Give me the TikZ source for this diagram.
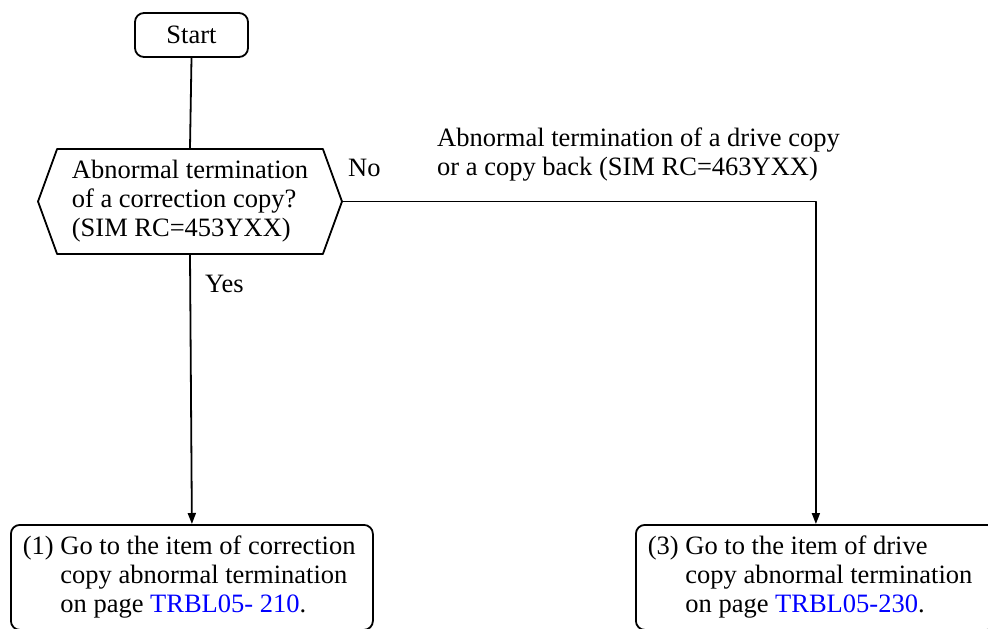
\documentclass[tikz,border=0pt]{standalone}
\usepackage{fontspec}
\setmainfont{Liberation Serif}
\usetikzlibrary{shapes.symbols,arrows.meta}

\begin{document}
\begin{tikzpicture}[x=1pt, y=-1pt, line cap=round, line join=round,
    every node/.style={font=\fontsize{26.5}{29}\selectfont, inner sep=0pt},
    box/.style={draw, line width=1.8pt, rounded corners=9pt},
    decision/.style={draw, line width=1.8pt, shape=signal, signal to=west and east,
      signal pointer angle=140, minimum width=304, minimum height=105},
    flow/.style={line width=1.8pt, -{Triangle[length=11pt, width=8pt]}}]
  % --- Khung ảnh ---
  \useasboundingbox (0,0) rectangle (988,629);

  % --- Các khối ---
  \node[box, minimum width=113, minimum height=44] (start) at (191.5,35) {Start};
  \node[decision, align=left] (q) at (190,201.5)
    {Abnormal termination\\of a correction copy?\\(SIM RC=453YXX)};
  \node[box, anchor=north west, inner xsep=12pt, minimum height=105] (go1) at (10,524)
    {\makebox[338pt][l]{\begin{tabular}{@{}l@{ }l@{}}(1) & Go to the item of correction\\
      & copy abnormal termination\\
      & on page \textcolor{blue}{TRBL05- 210}.\end{tabular}}};
  \node[box, anchor=north west, inner xsep=12pt, minimum height=105] (go3) at (635,524)
    {\makebox[336pt][l]{\begin{tabular}{@{}l@{ }l@{}}(3) & Go to the item of drive\\
      & copy abnormal termination\\
      & on page \textcolor{blue}{TRBL05-230}.\end{tabular}}};

  % --- Nhãn ---
  \node[anchor=base west] (no) at (348,176) {No};
  \node[anchor=base west] (yes) at (205,292) {Yes};
  \node[anchor=base west, align=left] (drive) at (437,175)
    {Abnormal termination of a drive copy\\or a copy back (SIM RC=463YXX)};

  % --- Đường nối ---
  \draw[line width=1.8pt] (start.south) -- (q.north);
  \draw[flow] (q.south) -- (go1.north);
  \draw[flow] (q.east) -| (go3.north);
\end{tikzpicture}
\end{document}
